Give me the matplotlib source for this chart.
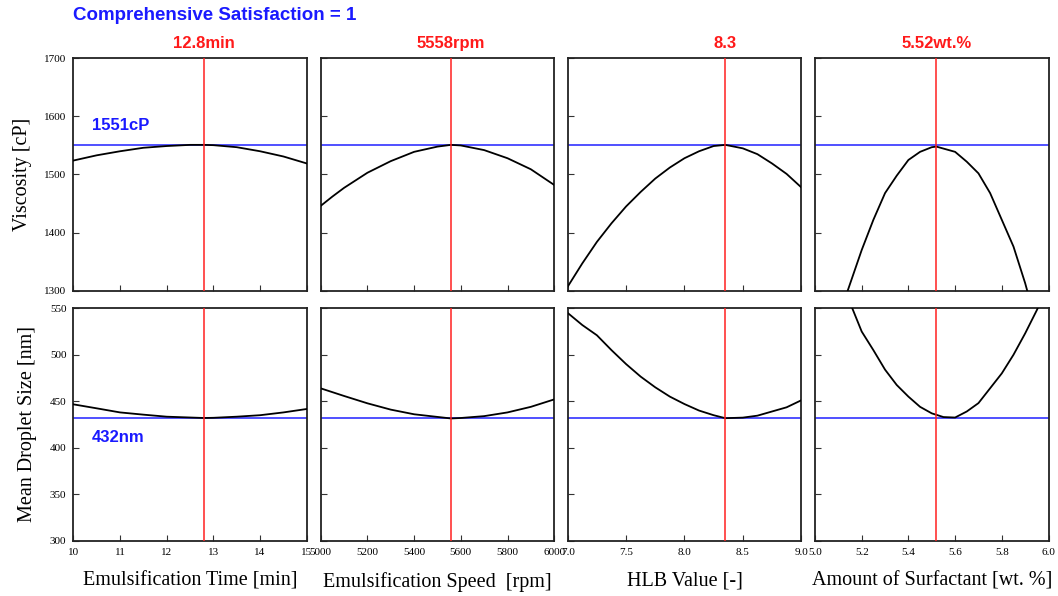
import numpy as np
import matplotlib
matplotlib.use("Agg")
import matplotlib.pyplot as plt

# optimum settings (red lines) and predicted responses (blue lines)
opt_x = [12.8, 5558, 8.35, 5.52]
opt_labels = ["12.8min", "5558rpm", "8.3", "5.52wt.%"]
visc_opt = 1551
size_opt = 432

xlabels = ["Emulsification Time [min]", "Emulsification Speed  [rpm]",
           "HLB Value [-]", "Amount of Surfactant [wt. %]"]
xlims = [(10, 15), (5000, 6000), (7.0, 9.0), (5.0, 6.0)]
xticks = [np.arange(10, 15.1, 1), np.arange(5000, 6001, 200),
          np.arange(7.0, 9.01, 0.5), np.arange(5.0, 6.01, 0.2)]
xfmt = ["%d", "%d", "%.1f", "%.1f"]

# viscosity curves (cP)
visc_x = [
    [10, 10.5, 11, 11.5, 12, 12.5, 12.8, 13, 13.5, 14, 14.5, 15],
    [5000, 5050, 5100, 5150, 5200, 5300, 5400, 5500, 5558, 5600, 5700, 5800, 5900, 6000],
    [7.0, 7.125, 7.25, 7.375, 7.5, 7.625, 7.75, 7.875, 8.0, 8.125, 8.25, 8.35, 8.5,
     8.625, 8.75, 8.875, 9.0],
    [5.1, 5.14, 5.2, 5.25, 5.3, 5.35, 5.4, 5.45, 5.5, 5.52, 5.6, 5.65, 5.7, 5.75,
     5.8, 5.85, 5.9, 5.95],
]
visc_y = [
    [1524, 1533, 1540, 1546, 1549, 1551, 1551, 1550.5, 1547, 1540, 1531, 1519],
    [1446, 1462, 1477, 1490, 1503, 1523, 1539, 1548, 1551, 1550, 1542, 1528, 1509, 1482],
    [1307, 1347, 1384, 1416, 1445, 1470, 1493, 1512, 1528, 1540, 1549, 1551, 1545,
     1535, 1519, 1501, 1478],
    [1220, 1300, 1370, 1422, 1468, 1498, 1525, 1539, 1547, 1548, 1539, 1522, 1502, 1468,
     1422, 1376, 1313, 1240],
]

# droplet size curves (nm)
size_x = [
    [10, 10.5, 11, 11.5, 12, 12.8, 13, 13.5, 14, 14.5, 15],
    [5000, 5100, 5200, 5300, 5400, 5558, 5600, 5700, 5800, 5900, 6000],
    [7.0, 7.125, 7.25, 7.375, 7.5, 7.625, 7.75, 7.875, 8.0, 8.125, 8.25, 8.35, 8.5,
     8.625, 8.75, 8.875, 9.0],
    [5.15, 5.2, 5.25, 5.3, 5.35, 5.4, 5.45, 5.5, 5.55, 5.6, 5.65, 5.7, 5.75, 5.8,
     5.85, 5.9, 5.95, 6.0],
]
size_y = [
    [446.7, 442.4, 438, 435.6, 433.4, 432, 432.2, 433.4, 435, 438, 441.7],
    [463.9, 455.7, 447.8, 441, 436, 431.5, 432, 434, 438, 444, 452],
    [545, 532, 521, 505, 490, 476.5, 465, 455, 447, 440, 435, 431.8, 432.4,
     434.5, 439, 443.5, 451],
    [556, 525, 505, 484, 467.5, 455, 444, 437, 433, 432.5, 439, 448, 464, 480,
     500, 523, 548, 575],
]

W, H = 1058, 596
fig = plt.figure(figsize=(W / 100, H / 100), dpi=100)
plt.rcParams["font.family"] = "Liberation Serif"

lefts = [73.3, 320.7, 567.7, 815]
aw = 233.5
tops = [58.3, 308.3]
ah = 232.4

def setup(ax, col, row):
    ax.set_xlim(*xlims[col])
    ax.set_xticks(xticks[col])
    ax.tick_params(direction="in", length=4, width=0.8, labelsize=8, color="#333333", pad=5)
    for s in ax.spines.values():
        s.set_linewidth(1.3)
        s.set_color("#222222")
    if row == 0:
        ax.set_ylim(1300, 1700)
        ax.set_yticks(np.arange(1300, 1701, 100))
    else:
        ax.set_ylim(300, 550)
        ax.set_yticks(np.arange(300, 551, 50))
    if col > 0:
        ax.set_yticklabels([])
    if row == 0:
        ax.set_xticklabels([])
    else:
        ax.set_xticklabels([xfmt[col] % v for v in xticks[col]])

for col in range(4):
    # top row - viscosity
    ax = fig.add_axes([lefts[col] / W, 1 - (tops[0] + ah) / H, aw / W, ah / H])
    setup(ax, col, 0)
    ax.plot(visc_x[col], visc_y[col], color="black", lw=1.3, zorder=3)
    ax.axhline(visc_opt, color="#2020ff", lw=1.1, zorder=2)
    ax.axvline(opt_x[col], color="#ff2020", lw=1.1, zorder=4)
    ax.text(opt_x[col], 1712, opt_labels[col], color="#ff1a1a", fontweight="bold",
            fontsize=12, family="Liberation Sans", ha="center", va="bottom")
    if col == 0:
        ax.set_ylabel("Viscosity [cP]", fontsize=14.5, labelpad=9)
        ax.text(10.4, 1571, "1551cP", color="#1a1aff", fontweight="bold",
                fontsize=12, family="Liberation Sans", ha="left", va="bottom")

    # bottom row - droplet size
    ax = fig.add_axes([lefts[col] / W, 1 - (tops[1] + ah) / H, aw / W, ah / H])
    setup(ax, col, 1)
    ax.plot(size_x[col], size_y[col], color="black", lw=1.3, zorder=3)
    ax.axhline(size_opt, color="#2020ff", lw=1.1, zorder=2)
    ax.axvline(opt_x[col], color="#ff2020", lw=1.1, zorder=4)
    ax.set_xlabel(xlabels[col], fontsize=14.5, labelpad=11)
    if col == 0:
        ax.set_ylabel("Mean Droplet Size [nm]", fontsize=14.5, labelpad=9)
        ax.text(10.4, 411, "432nm", color="#1a1aff", fontweight="bold",
                fontsize=12, family="Liberation Sans", ha="left", va="center")

fig.text(73 / W, 1 - 15 / H, "Comprehensive Satisfaction = 1", color="#1a1aff",
         fontweight="bold", fontsize=13.5, family="Liberation Sans", ha="left", va="center")

fig.savefig("out.png", dpi=100)
